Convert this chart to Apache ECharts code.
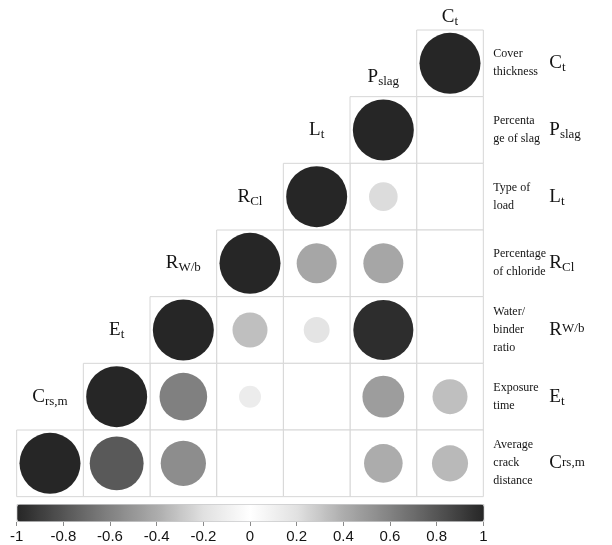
<!DOCTYPE html>
<html>
<head>
<meta charset="utf-8">
<script src="https://cdn.jsdelivr.net/npm/echarts@6/dist/echarts.min.js"></script>
<style>
  html, body { margin: 0; padding: 0; background: #fff; }
  #chart { width: 612px; height: 545px; }
</style>
</head>
<body>
<div id="chart"></div>
<script>
// variables, top row to bottom row (columns run the other way)
const varKeys = ['Ct', 'Pslag', 'Lt', 'RCl', 'RWb', 'Et', 'Crsm'];
const varDesc = ['Cover\nthickness', 'Percenta\nge of slag', 'Type of\nload', 'Percentage\nof chloride',
                 'Water/\nbinder\nratio', 'Exposure\ntime', 'Average\ncrack\ndistance'];
// rich text symbols: header above the diagonal / right hand side
const colSymbols = ['{m|C}{s|t}', '{m|P}{s|slag}', '{m|L}{s|t}', '{m|R}{s|Cl}', '{m|R}{s|W/b}', '{m|E}{s|t}', '{m|C}{s|rs,m}'];
const rowSymbols = ['{m|C}{s|t}', '{m|P}{s|slag}', '{m|L}{s|t}', '{m|R}{s|Cl}', '{m|R}{u|W/b}', '{m|E}{s|t}', '{m|C}{u|rs,m}'];
// lower triangle of the correlation matrix (row i, var j <= i), null = blank cell
const corr = [
  [1],
  [null, 1],
  [null, 0.22, 1],
  [null, 0.43, 0.43, 1],
  [null, 0.97, 0.18, 0.33, 1],
  [0.33, 0.47, null, 0.13, 0.61, 1],
  [0.35, 0.40, null, null, 0.55, 0.78, 1]
];
// colour bar
const barMin = -1, barMax = 1, barStep = 0.2;
const barColors = ['#262626', '#555555', '#828282', '#acacac', '#e1e1e1', '#ffffff',
                   '#e1e1e1', '#acacac', '#828282', '#555555', '#262626'];

const n = varKeys.length;
const G = { left: 16.67, top: 30, size: 466.67 };
const cell = G.size / n;

const cells = [], circles = [], heads = [];
corr.forEach((row, i) => {
  row.forEach((v, j) => {
    cells.push([n - 1 - j, i]);
    if (v !== null) circles.push([n - 1 - j, i, v]);
  });
  const dy = i >= 2 ? cell : (i === 1 ? 53 : 46.5);
  heads.push({ value: [n - 1 - i, i], label: { offset: [0, -dy] }, sym: colSymbols[i] });
});

const serif = 'Liberation Serif';
const ink = '#141414';
const rich = {
  m: { fontFamily: serif, fontSize: 19, lineHeight: 22, color: ink },
  s: { fontFamily: serif, fontSize: 13, lineHeight: 10, verticalAlign: 'bottom', color: ink },
  u: { fontFamily: serif, fontSize: 13, padding: [0, 0, 2, 0], color: ink }
};

const chart = echarts.init(document.getElementById('chart'));
chart.setOption({
  animation: false,
  backgroundColor: '#fff',
  grid: [
    { left: G.left, top: G.top, width: G.size, height: G.size },
    { left: G.left, top: 521, width: G.size, height: 1 }
  ],
  xAxis: [
    { type: 'category', data: varKeys.slice().reverse(), show: false, gridIndex: 0 },
    {
      type: 'value', gridIndex: 1, min: barMin, max: barMax, interval: barStep, position: 'bottom',
      axisLine: { show: false }, splitLine: { show: false },
      axisTick: { length: 4, lineStyle: { color: '#8a8a8a' } },
      axisLabel: {
        margin: 7, fontFamily: 'Liberation Sans', fontSize: 15, color: ink,
        showMinLabel: true, showMaxLabel: true,
        formatter: v => String(+v.toFixed(1))
      }
    }
  ],
  yAxis: [
    {
      type: 'category', data: varDesc, inverse: true, position: 'right', gridIndex: 0,
      axisLine: { show: false }, axisTick: { show: false }, splitLine: { show: false },
      axisLabel: { interval: 0, margin: 10, align: 'left', fontFamily: serif, fontSize: 12, lineHeight: 18, color: ink }
    },
    {
      type: 'category', data: rowSymbols, inverse: true, position: 'right', gridIndex: 0,
      axisLine: { show: false }, axisTick: { show: false }, splitLine: { show: false },
      axisLabel: { interval: 0, margin: 66, align: 'left', rich: rich }
    },
    { type: 'value', gridIndex: 1, show: false }
  ],
  visualMap: {
    type: 'continuous', min: barMin, max: barMax, dimension: 2, seriesIndex: 1,
    orient: 'horizontal', left: G.left, top: 504, itemWidth: 17, itemHeight: G.size,
    calculable: false, hoverLink: false, padding: 0,
    borderColor: '#c8c8c8', borderWidth: 1,
    inRange: { color: barColors }
  },
  series: [
    {
      type: 'custom', xAxisIndex: 0, yAxisIndex: 0, data: cells, silent: true,
      renderItem: (params, api) => {
        const c = api.coord([api.value(0), api.value(1)]);
        const s = api.size([1, 1]);
        return {
          type: 'rect',
          shape: { x: c[0] - s[0] / 2, y: c[1] - s[1] / 2, width: s[0], height: s[1] },
          style: { fill: '#fff', stroke: '#d6d6d6', lineWidth: 1 }
        };
      }
    },
    {
      type: 'scatter', xAxisIndex: 0, yAxisIndex: 0, data: circles, symbol: 'circle',
      itemStyle: { opacity: 1 },
      symbolSize: v => 0.915 * cell * Math.sqrt(Math.abs(v[2]))
    },
    {
      type: 'scatter', xAxisIndex: 0, yAxisIndex: 0, data: heads, symbolSize: 0, silent: true,
      itemStyle: { opacity: 1 },
      label: {
        show: true, position: 'inside', rich: rich,
        formatter: p => p.data.sym
      }
    }
  ]
});
</script>
</body>
</html>
